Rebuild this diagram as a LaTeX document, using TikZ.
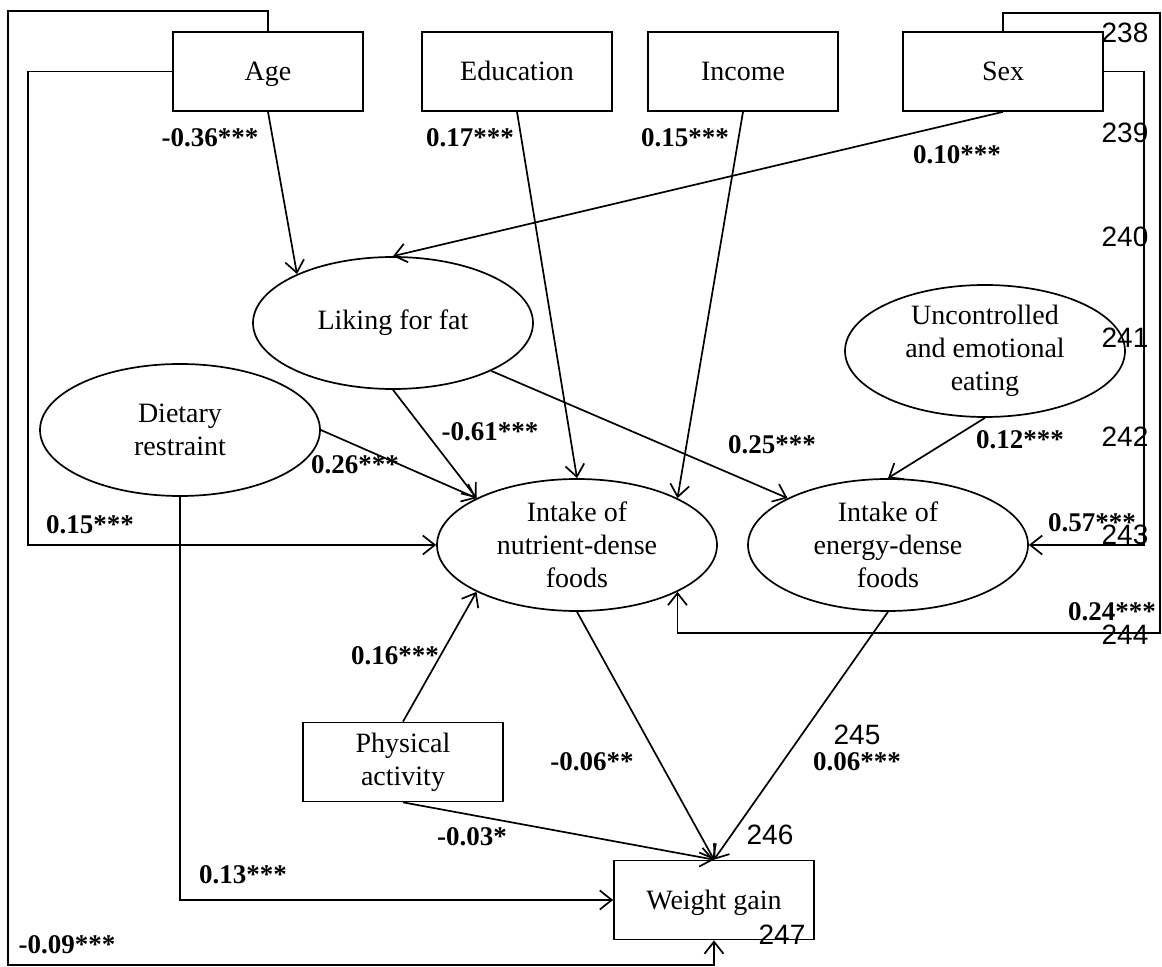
\documentclass[tikz,border=0pt]{standalone}
\usepackage{fontspec}
\setmainfont{Liberation Serif}
\newfontfamily\linenofont{Liberation Sans}
\usetikzlibrary{arrows.meta,shapes.geometric}

\begin{document}
\begin{tikzpicture}[x=0.5pt,y=-0.5pt,line width=0.85pt,
  >={Straight Barb[length=6pt,width=9.5pt]},
  box/.style={draw,rectangle,minimum width=100pt,minimum height=39.5pt,inner sep=0pt,
    align=center,font=\fontsize{14}{16.5}\selectfont},
  oneline/.style={text height=11pt,text depth=2pt},
  oval/.style={draw,ellipse,minimum width=140pt,minimum height=66pt,inner sep=0pt,
    align=center,font=\fontsize{14}{16.5}\selectfont},
  coef/.style={font=\bfseries\fontsize{13.5}{16}\selectfont},
  lineno/.style={font=\linenofont\fontsize{14}{16}\selectfont}]
\useasboundingbox (0,0) rectangle (1162,967);

% observed variables
\node[box,oneline,minimum width=95pt] (age) at (268,71.5) {Age};
\node[box,oneline,minimum width=95pt] (edu) at (517,71.5) {Education};
\node[box,oneline,minimum width=95pt] (inc) at (743,71.5) {Income};
\node[box,oneline] (sex) at (1003,71.5) {Sex};
\node[box] (phy) at (403,762) {Physical\\activity};
\node[box,oneline] (wg) at (714,900) {Weight gain};

% latent variables
\node[oval] (lik) at (393,323) {Liking for fat};
\node[oval] (unc) at (985,351) {Uncontrolled\\and emotional\\eating};
\node[oval] (die) at (180,430) {Dietary\\restraint};
\node[oval] (nut) at (577,545) {Intake of\\nutrient-dense\\foods};
\node[oval] (ene) at (888,545) {Intake of\\energy-dense\\foods};

% corners of the outer paths
\coordinate (tl) at (8,11);
\coordinate (bl) at (8,965);
\coordinate (il) at (28,545);
\coordinate (tr) at (1160,13);
\coordinate (br) at (1160,633);
\coordinate (ir) at (1144,545);

% paths
\draw[->] (age.south) -- (lik.153);
\draw[->] (sex.south) -- (lik.north);
\draw[->] (edu.south) -- (nut.north);
\draw[->] (inc.south) -- (nut.25.6);
\draw[->] (lik.south) -- (nut.155);
\draw[->] (die.east) -- (nut.155);
\draw[->] (lik.-26) -- (ene.155);
\draw[->] (unc.south) -- (ene.north);
\draw[->] (age.west) -| (il) -- (nut.west);
\draw[->] (sex.east) -| (ir) -- (ene.east);
\draw[->] (sex.north) |- (tr) -- (br) -| (nut.-25.6);
\draw[->] (age.north) |- (tl) -- (bl) -| (wg.south);
\draw[->] (die.south) |- (wg.west);
\draw[->] (phy.north) -- (nut.205);
\draw[->] (phy.south) -- (wg.north);
\draw[->] (nut.south) -- (wg.north);
\draw[->] (ene.south) -- (wg.north);

% coefficients
\node[coef] (cAge) at (210,138) {-0.36***};
\node[coef] (cEdu) at (470,138) {0.17***};
\node[coef] (cInc) at (685,138) {0.15***};
\node[coef] (cSex) at (957,155) {0.10***};
\node[coef] (cLik) at (490,432) {-0.61***};
\node[coef] (cLikEne) at (772,445) {0.25***};
\node[coef] (cUnc) at (1020,440) {0.12***};
\node[coef] (cDie) at (355,465) {0.26***};
\node[coef] (cAgeNut) at (90,525) {0.15***};
\node[coef] (cSexEne) at (1092,523) {0.57***};
\node[coef] (cSexNut) at (1112,612) {0.24***};
\node[coef] (cPhyNut) at (395,656) {0.16***};
\node[coef] (cNutWg) at (592,762) {-0.06**};
\node[coef] (cEneWg) at (857,762) {0.06***};
\node[coef] (cPhyWg) at (472,837) {-0.03*};
\node[coef] (cDieWg) at (243,875) {0.13***};
\node[coef] (cAgeWg) at (67,945) {-0.09***};

% line numbers of the page
\node[lineno] (n238) at (1125,33) {238};
\node[lineno] (n239) at (1125,133) {239};
\node[lineno] (n240) at (1125,237) {240};
\node[lineno] (n241) at (1125,338) {241};
\node[lineno] (n242) at (1125,437) {242};
\node[lineno] (n243) at (1125,535) {243};
\node[lineno] (n244) at (1125,635) {244};
\node[lineno] (n245) at (857,735) {245};
\node[lineno] (n246) at (770,835) {246};
\node[lineno] (n247) at (782,935) {247};
\end{tikzpicture}
\end{document}
